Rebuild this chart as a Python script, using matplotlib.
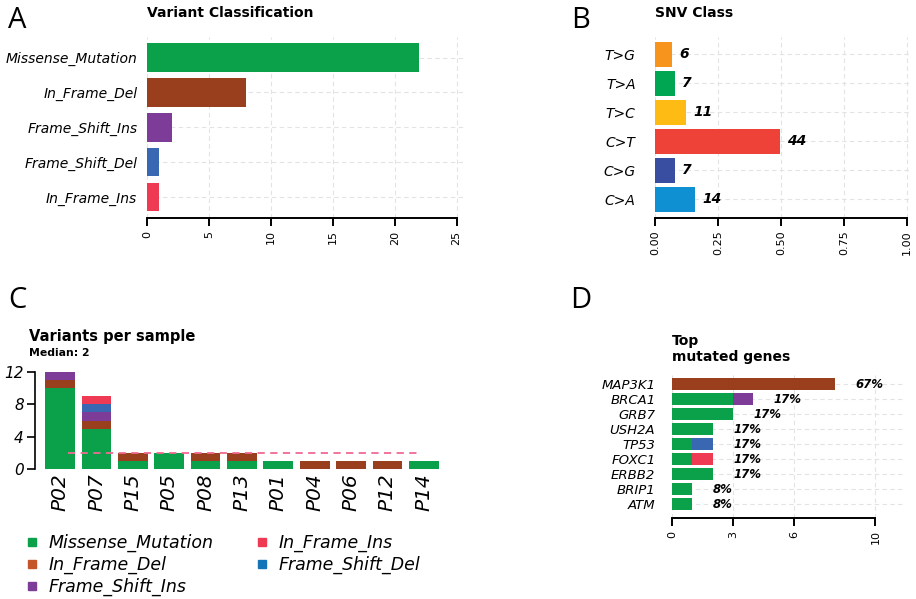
import matplotlib
matplotlib.use('Agg')
import matplotlib.pyplot as plt
from matplotlib.lines import Line2D
import numpy as np

# variant classification (panel A)
vc_classes = ['Missense_Mutation', 'In_Frame_Del', 'Frame_Shift_Ins', 'Frame_Shift_Del', 'In_Frame_Ins']
vc_counts = [22, 8, 2, 1, 1]

# SNV class (panel B)
snv_classes = ['T>G', 'T>A', 'T>C', 'C>T', 'C>G', 'C>A']
snv_counts = [6, 7, 11, 44, 7, 14]

# variants per sample (panel C)
samples = ['P02', 'P07', 'P15', 'P05', 'P08', 'P13', 'P01', 'P04', 'P06', 'P12', 'P14']
s_missense = [10, 5, 1, 2, 1, 1, 1, 0, 0, 0, 1]
s_ifd = [1, 1, 1, 0, 1, 1, 0, 1, 1, 1, 0]
s_fsi = [1, 1, 0, 0, 0, 0, 0, 0, 0, 0, 0]
s_fsd = [0, 1, 0, 0, 0, 0, 0, 0, 0, 0, 0]
s_ifi = [0, 1, 0, 0, 0, 0, 0, 0, 0, 0, 0]
median_vps = 2

# top mutated genes (panel D)
genes = ['MAP3K1', 'BRCA1', 'GRB7', 'USH2A', 'TP53', 'FOXC1', 'ERBB2', 'BRIP1', 'ATM']
g_missense = [0, 3, 3, 2, 1, 1, 2, 1, 1]
g_ifd = [8, 0, 0, 0, 0, 0, 0, 0, 0]
g_fsi = [0, 1, 0, 0, 0, 0, 0, 0, 0]
g_fsd = [0, 0, 0, 0, 1, 0, 0, 0, 0]
g_ifi = [0, 0, 0, 0, 0, 1, 0, 0, 0]
g_pct = ['67%', '17%', '17%', '17%', '17%', '17%', '17%', '8%', '8%']

col = {'Missense_Mutation': '#0BA14B', 'In_Frame_Del': '#993F1E', 'Frame_Shift_Ins': '#7D3C98',
       'Frame_Shift_Del': '#3A67B1', 'In_Frame_Ins': '#EE3A52'}
leg_col = {'Missense_Mutation': '#0BA14B', 'In_Frame_Del': '#C5562A', 'Frame_Shift_Ins': '#7D3C98',
           'Frame_Shift_Del': '#1375B7', 'In_Frame_Ins': '#EE3A52'}
snv_col = ['#F7941D', '#00A651', '#FDBB13', '#EE4137', '#3A4EA1', '#0E90D2']

W, H = 916, 599
fig = plt.figure(figsize=(W / 100, H / 100), dpi=100)


def px_axes(left, top, right, bottom):
    return fig.add_axes([left / W, 1 - bottom / H, (right - left) / W, (bottom - top) / H])


def r_style(ax, ticks, ysize, ypad):
    for s in ['top', 'right', 'left']:
        ax.spines[s].set_visible(False)
    ax.spines['bottom'].set_linewidth(1.4)
    ax.spines['bottom'].set_bounds(ticks[0], ticks[-1])
    ax.set_xticks(ticks)
    ax.tick_params(axis='x', length=6, width=1.4, rotation=90, labelsize=8, pad=3)
    ax.tick_params(axis='y', length=0, labelsize=ysize, pad=ypad)
    for t in ax.get_yticklabels():
        t.set_fontstyle('italic')
    ax.grid(True, color='#E3E3E3', linestyle=(0, (4, 3)), linewidth=0.8)
    ax.set_axisbelow(True)


# ---- A
axA = px_axes(147, 37, 464, 218)
yA = np.arange(len(vc_classes))
axA.barh(yA, vc_counts, height=0.82, color=[col[c] for c in vc_classes])
axA.set_yticks(yA)
axA.set_yticklabels(vc_classes)
axA.set_xlim(0, 25.6)
axA.set_ylim(4.6, -0.59)
r_style(axA, [0, 5, 10, 15, 20, 25], 10, 7)
fig.text(147 / W, 1 - 13 / H, 'Variant Classification', fontsize=10, fontweight='bold', va='center')

# ---- B
axB = px_axes(655, 37, 912, 218)
yB = np.arange(len(snv_classes))
frac = np.array(snv_counts) / sum(snv_counts)
axB.barh(yB, frac, height=0.86, color=snv_col)
for y, f, c in zip(yB, frac, snv_counts):
    axB.text(f + 0.03, y, str(c), fontsize=10, fontweight='bold', fontstyle='italic', va='center')
axB.set_yticks(yB)
axB.set_yticklabels(snv_classes)
axB.set_xlim(0, 1.02)
axB.set_ylim(5.64, -0.6)
r_style(axB, [0, 0.25, 0.5, 0.75, 1.0], 10, 14)
axB.set_xticklabels(['0.00', '0.25', '0.50', '0.75', '1.00'])
fig.text(655 / W, 1 - 13 / H, 'SNV Class', fontsize=10, fontweight='bold', va='center')

# ---- C
axC = px_axes(35, 372, 442, 469)
xC = np.arange(len(samples))
bottom = np.zeros(len(samples))
for name, vals in [('Missense_Mutation', s_missense), ('In_Frame_Del', s_ifd), ('Frame_Shift_Ins', s_fsi),
                   ('Frame_Shift_Del', s_fsd), ('In_Frame_Ins', s_ifi)]:
    axC.bar(xC, vals, bottom=bottom, width=0.82, color=col[name])
    bottom += np.array(vals)
axC.hlines(median_vps, 0.22, 9.9, colors='#F06A92', linestyles=(0, (4, 3)), linewidth=1.3)
axC.set_xlim(-0.69, 10.5)
axC.set_ylim(0, 12)
for s in ['top', 'right', 'bottom']:
    axC.spines[s].set_visible(False)
axC.spines['left'].set_linewidth(1.2)
axC.set_yticks([0, 4, 8, 12])
axC.tick_params(axis='y', length=6, width=1.2, labelsize=11, pad=2)
for t in axC.get_yticklabels():
    t.set_fontstyle('italic')
axC.set_xticks(xC)
axC.set_xticklabels(samples, rotation=90, fontsize=14.5, fontstyle='italic')
axC.tick_params(axis='x', length=0, pad=3)
fig.text(29 / W, 1 - 337 / H, 'Variants per sample', fontsize=10.5, fontweight='bold', va='center')
fig.text(29 / W, 1 - 353 / H, 'Median: 2', fontsize=7.8, fontweight='bold', va='center')

labels = ['Missense_Mutation', 'In_Frame_Del', 'Frame_Shift_Ins', 'In_Frame_Ins', 'Frame_Shift_Del']
handles = [Line2D([], [], marker='s', linestyle='none', markersize=6, color=leg_col[c]) for c in labels]
leg = fig.legend(handles, labels, loc='upper left', bbox_to_anchor=(8 / W, 1 - 518 / H), ncol=2,
                 frameon=False, prop={'style': 'italic', 'size': 12.5}, handletextpad=0.45,
                 columnspacing=2.3, labelspacing=0.22, handlelength=1.0)

# ---- D
axD = px_axes(672, 375, 906, 518)
yD = np.arange(len(genes))
left = np.zeros(len(genes))
for name, vals in [('Missense_Mutation', g_missense), ('In_Frame_Del', g_ifd), ('Frame_Shift_Ins', g_fsi),
                   ('Frame_Shift_Del', g_fsd), ('In_Frame_Ins', g_ifi)]:
    axD.barh(yD, vals, left=left, height=0.86, color=col[name])
    left += np.array(vals)
for y, tot, p in zip(yD, left, g_pct):
    axD.text(tot + 1.0, y, p, fontsize=8.5, fontweight='bold', fontstyle='italic', va='center')
axD.set_yticks(yD)
axD.set_yticklabels(genes)
axD.set_xlim(0, 11.5)
axD.set_ylim(8.93, -0.6)
r_style(axD, [0, 3, 6, 10], 9.5, 12)
fig.text(672 / W, 1 - 349 / H, 'Top\nmutated genes', fontsize=10, fontweight='bold', va='center',
         linespacing=1.15)

# panel letters
for lab, x, y in [('A', 8, 21), ('B', 571, 20), ('C', 8, 301), ('D', 570, 300)]:
    fig.text(x / W, 1 - y / H, lab, fontsize=21, family='Open Sans', va='center')

fig.savefig('out.png', dpi=100)
